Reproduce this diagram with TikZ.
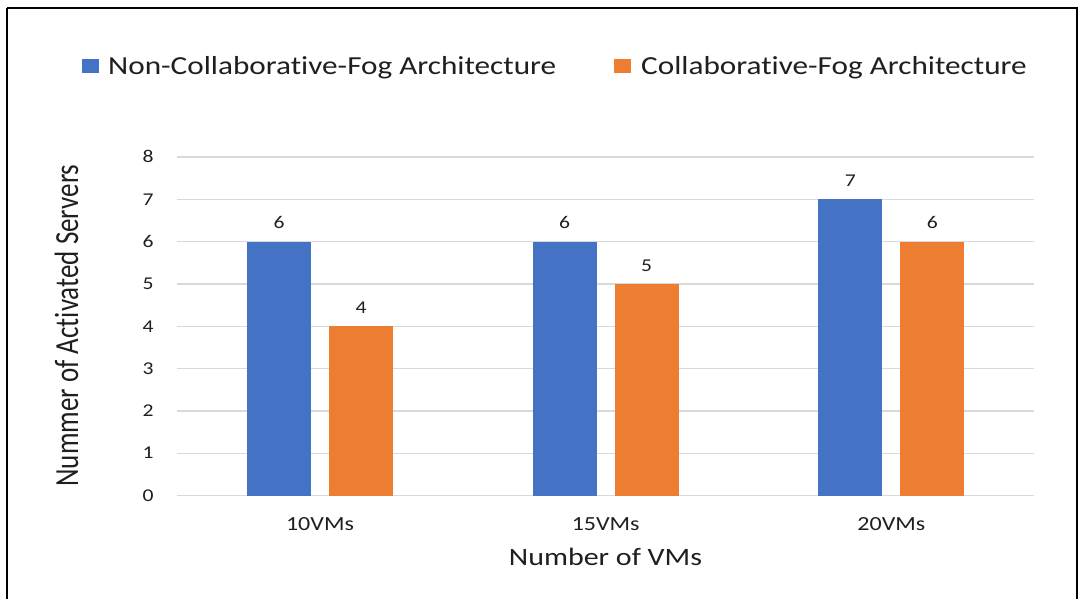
\documentclass[tikz,border=0pt]{standalone}
\usepackage{fontspec}
\setmainfont{Carlito}[Ligatures={NoCommon}]
\definecolor{barblue}{HTML}{4472C4}
\definecolor{barorange}{HTML}{ED7D31}
\definecolor{gridgray}{HTML}{D9D9D9}
\definecolor{txt}{HTML}{1F1F1F}
\newcommand\hstretch[1]{\scalebox{1.2}[1]{#1}}
\newcommand\vstretch[1]{\scalebox{1}[1.25]{#1}}
\tikzset{
  lbl/.style={inner sep=0pt, text=txt},
  ticklbl/.style={lbl, anchor=base, font=\fontsize{18}{20}\selectfont},
  catlbl/.style={lbl, anchor=base, font=\fontsize{20}{22}\selectfont},
  vallbl/.style={lbl, anchor=base, font=\fontsize{18}{20}\selectfont},
  legtxt/.style={lbl, anchor=base west, font=\fontsize{26}{28}\selectfont},
  axtitle/.style={lbl, anchor=base, font=\fontsize{25}{28}\selectfont},
  ytitlefont/.style={lbl, anchor=base, font=\fontsize{27}{30}\selectfont},
  gridln/.style={draw=gridgray, line width=1.3pt},
}
\begin{document}
\begin{tikzpicture}[x=1pt,y=-1pt]
\useasboundingbox (0,0) rectangle (1081,599);
\fill[white] (0,0) rectangle (1081,599);
% frame
\draw[black, line width=2pt] (7,8) -- (1077,8) -- (1077,620);
\draw[black, line width=2pt] (7,8) -- (7,620);
% gridlines and tick labels
\foreach \v in {0,...,8} {
  \pgfmathsetmacro{\yy}{495.5-42.3*\v}
  \coordinate (gl\v) at (177,\yy);
  \coordinate (gr\v) at (1034,\yy);
  \draw[gridln] (gl\v) -- (gr\v);
  \node[ticklbl] (tick\v) at (148,\yy+5.7) {\hstretch{\v}};
}
% bars
\foreach \c/\cx/\a/\b in {1/320/6/4, 2/605.7/6/5, 3/891.4/7/6} {
  \pgfmathsetmacro{\ya}{495.5-42.3*\a}
  \pgfmathsetmacro{\yb}{495.5-42.3*\b}
  \fill[barblue] (\cx-73,495.5) rectangle (\cx-9,\ya);
  \fill[barorange] (\cx+9,495.5) rectangle (\cx+73,\yb);
  \node[vallbl] (va\c) at (\cx-41,\ya-13) {\hstretch{\a}};
  \node[vallbl] (vb\c) at (\cx+41,\yb-13) {\hstretch{\b}};
}
% category labels
\node[catlbl] (cat1) at (320,530) {\hstretch{10VMs}};
\node[catlbl] (cat2) at (605.7,530) {\hstretch{15VMs}};
\node[catlbl] (cat3) at (891.4,530) {\hstretch{20VMs}};
% axis titles
\node[axtitle] (xtitle) at (605.5,565) {\hstretch{Number of VMs}};
\node[ytitlefont, rotate=90] (ytitle) at (78,325.5) {\vstretch{Nummer of Activated Servers}};
% legend
\fill[barblue] (82,59) rectangle (99,73);
\node[legtxt] (leg1) at (108,75) {\hstretch{Non-Collaborative-Fog Architecture}};
\fill[barorange] (614,59) rectangle (631,73);
\node[legtxt] (leg2) at (641,75) {\hstretch{Collaborative-Fog Architecture}};
\end{tikzpicture}
\end{document}
